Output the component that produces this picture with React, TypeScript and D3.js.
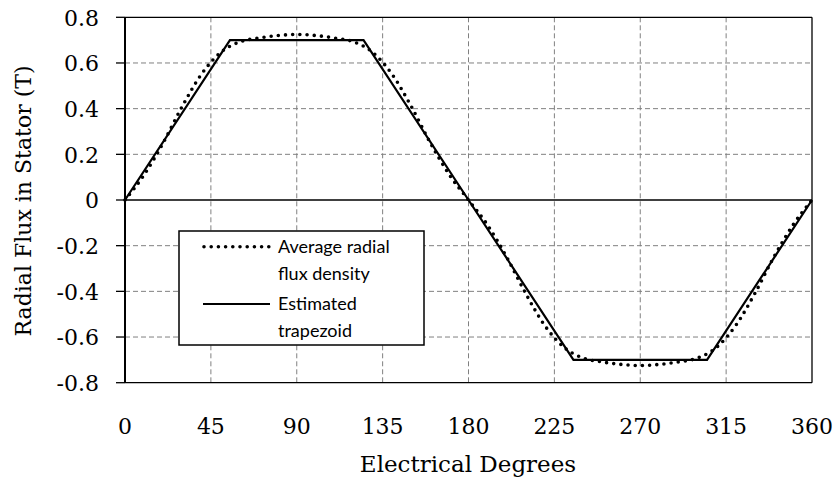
import React from "react";
import * as d3 from "d3";

const degrees = [0, 10, 20, 30, 40, 50, 60, 70, 80, 90, 100, 110, 120, 130, 140, 150, 160, 170, 180,
  190, 200, 210, 220, 230, 240, 250, 260, 270, 280, 290, 300, 310, 320, 330, 340, 350, 360];
const avgFlux = [0, 0.11, 0.25, 0.41, 0.55, 0.645, 0.692, 0.709, 0.72, 0.725, 0.72, 0.709, 0.692, 0.645, 0.55, 0.41, 0.25, 0.11, 0,
  -0.11, -0.25, -0.41, -0.55, -0.645, -0.692, -0.709, -0.72, -0.725, -0.72, -0.709, -0.692, -0.645, -0.55, -0.41, -0.25, -0.11, 0];
const trapDeg = [0, 55, 125, 180, 235, 305, 360];
const trapVal = [0, 0.7, 0.7, 0, -0.7, -0.7, 0];
const xTicks = [0, 45, 90, 135, 180, 225, 270, 315, 360];
const yTicks = [-0.8, -0.6, -0.4, -0.2, 0, 0.2, 0.4, 0.6, 0.8];
const yTickLabels = ["-0.8", "-0.6", "-0.4", "-0.2", "0", "0.2", "0.4", "0.6", "0.8"];
const legendLabels = [["Average radial", "flux density"], ["Estimated", "trapezoid"]];

const W = 838, H = 479;
const L = 125, R = 812, T = 17.3, B = 382.7;

export default function App() {
  const x = d3.scaleLinear().domain([0, 360]).range([L, R]);
  const y = d3.scaleLinear().domain([-0.8, 0.8]).range([B, T]);
  const avgLine = d3.line<number>().x((_, i) => x(degrees[i])).y((d) => y(d)).curve(d3.curveMonotoneX)(avgFlux) || "";
  const trapLine = d3.line<number>().x((_, i) => x(trapDeg[i])).y((d) => y(d))(trapVal) || "";
  const serif = "'DejaVu Serif', serif";
  const sans = "Lato, 'Open Sans', sans-serif";
  return (
    <svg width={W} height={H} style={{ position: "absolute", left: 0, top: 0, background: "#fff" }}>
      <rect x={0} y={0} width={W} height={H} fill="#fff" />
      {/* grid */}
      {xTicks.filter((t) => t !== 0 && t !== 360).map((t) => (
        <line key={"gx" + t} x1={x(t)} x2={x(t)} y1={T} y2={B} stroke="#808080" strokeWidth={1} strokeDasharray="5,3" />
      ))}
      {yTicks.filter((t) => t !== 0.8 && t !== -0.8 && t !== 0).map((t) => (
        <line key={"gy" + t} x1={L} x2={R} y1={y(t)} y2={y(t)} stroke="#808080" strokeWidth={1} strokeDasharray="5,3" />
      ))}
      {/* border */}
      <line x1={L} x2={R} y1={T} y2={T} stroke="#000" strokeWidth={1.3} />
      <line x1={R} x2={R} y1={T} y2={B} stroke="#000" strokeWidth={1.3} />
      <line x1={L} x2={R} y1={B} y2={B} stroke="#000" strokeWidth={1.3} />
      <line x1={L} x2={R} y1={y(0)} y2={y(0)} stroke="#000" strokeWidth={1.5} />
      <line x1={L} x2={L} y1={T} y2={B} stroke="#000" strokeWidth={2} />
      {yTicks.map((t) => (
        <line key={"ty" + t} x1={L - 9} x2={L} y1={y(t)} y2={y(t)} stroke="#000" strokeWidth={1.3} />
      ))}
      {/* series */}
      <path d={trapLine} fill="none" stroke="#000" strokeWidth={2.2} />
      <path d={avgLine} fill="none" stroke="#000" strokeWidth={3.6} strokeLinecap="round" strokeDasharray="0,7.2" />
      {/* tick labels */}
      {yTicks.map((t, i) => (
        <text key={"ly" + t} x={99} y={y(t)} dy="0.38em" textAnchor="end" fontFamily={serif} fontSize={22} fill="#000">
          {yTickLabels[i]}
        </text>
      ))}
      {xTicks.map((t) => (
        <text key={"lx" + t} x={x(t)} y={434} textAnchor="middle" fontFamily={serif} fontSize={22} fill="#000">
          {t}
        </text>
      ))}
      <text x={(L + R) / 2 - 0.5} y={472} textAnchor="middle" fontFamily={serif} fontSize={23} fill="#000">
        Electrical Degrees
      </text>
      <text transform={`translate(31,${(T + B) / 2 + 1}) rotate(-90)`} textAnchor="middle" fontFamily={serif} fontSize={22} fill="#000">
        Radial Flux in Stator (T)
      </text>
      {/* legend */}
      <rect x={179} y={231} width={245} height={114} fill="#fff" stroke="#000" strokeWidth={1.5} />
      <line x1={204} x2={270} y1={246.7} y2={246.7} stroke="#000" strokeWidth={3.6} strokeLinecap="round" strokeDasharray="0,7.2" />
      <line x1={203} x2={270} y1={304} y2={304} stroke="#000" strokeWidth={2.2} />
      {legendLabels.map((lines, i) =>
        lines.map((s, j) => (
          <text key={"lg" + i + j} x={278} y={253 + i * 57 + j * 27} fontFamily={sans} fontSize={18} fill="#000">
            {s}
          </text>
        ))
      )}
    </svg>
  );
}
